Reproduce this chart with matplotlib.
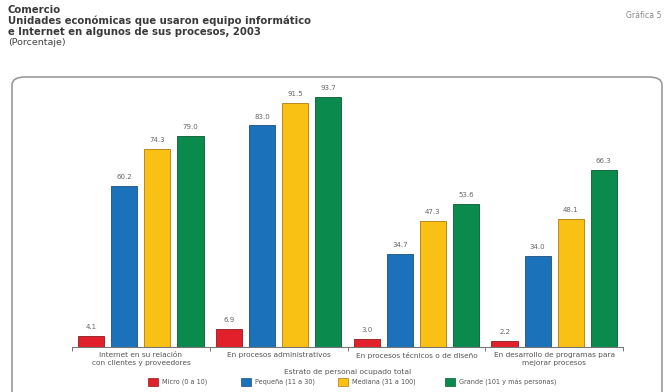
import numpy as np
import matplotlib.pyplot as plt
from matplotlib.patches import FancyBboxPatch, Rectangle

# Datos: porcentaje de unidades económicas por uso y estrato
usos = ['Internet en su relación\ncon clientes y proveedores',
        'En procesos administrativos',
        'En procesos técnicos o de diseño',
        'En desarrollo de programas para\nmejorar procesos']
estratos = ['Micro (0 a 10)', 'Pequeña (11 a 30)', 'Mediana (31 a 100)',
            'Grande (101 y más personas)']
micro = [4.1, 6.9, 3.0, 2.2]
pequena = [60.2, 83.0, 34.7, 34.0]
mediana = [74.3, 91.5, 47.3, 48.1]
grande = [79.0, 93.7, 53.6, 66.3]

colores = ['#E2202B', '#1B72BA', '#F8C114', '#0B8A4D']
bordes = ['#8E1A1F', '#1B4F7E', '#B07A10', '#0A5A33']
series = [micro, pequena, mediana, grande]

fig = plt.figure(figsize=(6.66, 3.92), dpi=100)

# marco redondeado del gráfico (debajo de los ejes)
marco = FancyBboxPatch((12 / 666, -0.05), 650 / 666, (392 - 77) / 392 + 0.05,
                       boxstyle='round,pad=0,rounding_size=0.02',
                       transform=fig.transFigure, facecolor='white',
                       edgecolor='#9a9a9a', linewidth=1.2, zorder=-5)
fig.patches.append(marco)

# títulos
tit = dict(fontsize=7.3, fontweight='bold', color='#3a3a3a', va='center')
fig.text(8 / 666, 1 - 10 / 392, 'Comercio', **tit)
fig.text(8 / 666, 1 - 21 / 392, 'Unidades económicas que usaron equipo informático', **tit)
fig.text(8 / 666, 1 - 32 / 392, 'e Internet en algunos de sus procesos, 2003', **tit)
fig.text(8 / 666, 1 - 42.5 / 392, '(Porcentaje)', fontsize=6.8,
         color='#444444', va='center')
fig.text(662 / 666, 1 - 16 / 392, 'Gráfica 5', fontsize=5.6,
         color='#888888', va='center', ha='right')

ax = fig.add_axes([72 / 666, 45 / 392, 551 / 666, 267 / 392], zorder=2)
ax.set_facecolor('none')
x = np.arange(len(usos))
ancho = 0.19
desp = [-0.36, -0.12, 0.12, 0.36]
for vals, c, b, d in zip(series, colores, bordes, desp):
    barras = ax.bar(x + d, vals, ancho, color=c, edgecolor=b, linewidth=0.6)
    for r, v in zip(barras, vals):
        ax.text(r.get_x() + r.get_width() / 2, v + 2.2, f'{v:.1f}',
                ha='center', va='bottom', fontsize=5.0, color='#666666')

ax.set_xlim(-0.5, 3.5)
ax.set_ylim(0, 100)
for s in ['top', 'right', 'left']:
    ax.spines[s].set_visible(False)
ax.spines['bottom'].set_color('#777777')
ax.spines['bottom'].set_linewidth(0.8)
ax.set_yticks([])
ax.set_xticks([-0.5, 0.5, 1.5, 2.5, 3.5])
ax.set_xticklabels([])
ax.tick_params(axis='x', length=3, width=0.7, color='#777777')

for i, u in enumerate(usos):
    ax.text(i, -2.0, u, ha='center', va='top', fontsize=5.3,
            color='#555555', linespacing=1.25)
ax.text(1.5, -8.3, 'Estrato de personal ocupado total', ha='center', va='top',
        fontsize=5.4, color='#555555')

# leyenda manual
pos_ley = [148, 241, 338, 445]
for px, c, b, t in zip(pos_ley, colores, bordes, estratos):
    fig.patches.append(Rectangle((px / 666, 1 - 386 / 392), 10 / 666, 8 / 392,
                                 transform=fig.transFigure, facecolor=c,
                                 edgecolor=b, linewidth=0.5))
    fig.text((px + 14) / 666, 1 - 382 / 392, t, fontsize=4.7,
             color='#555555', va='center')

fig.savefig('out.png', dpi=100)
